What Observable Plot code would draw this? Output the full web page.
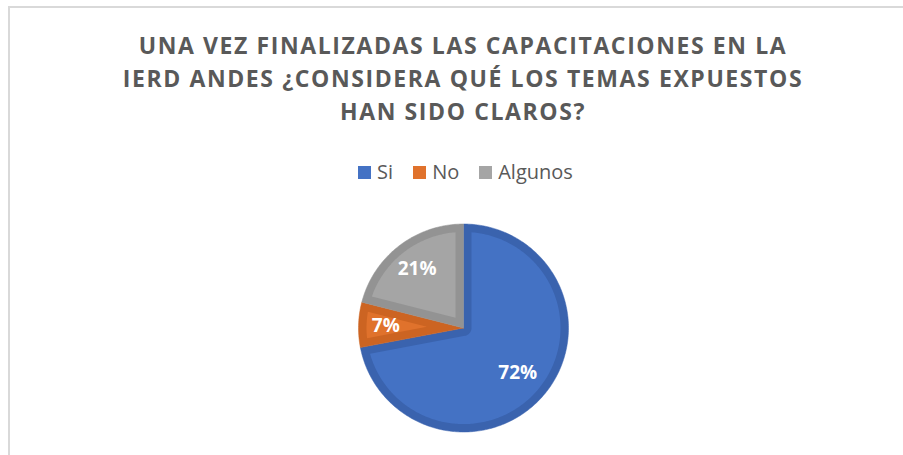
<!DOCTYPE html>
<html>
<head>
<meta charset="utf-8">
<script src="https://cdn.jsdelivr.net/npm/d3@7"></script>
<script src="https://cdn.jsdelivr.net/npm/@observablehq/plot@0.6"></script>
<style>
  html, body { margin: 0; padding: 0; background: #fff; }
  #wrap { position: relative; width: 903px; height: 455px; overflow: hidden; font-family: "Open Sans", sans-serif; }
  #frame { position: absolute; left: 8px; top: 6px; width: 1000px; height: 600px; border-left: 2px solid #D9D9D9; border-top: 2px solid #D9D9D9; }
  #title { position: absolute; left: 0; width: 926px; top: 28.5px; text-align: center; font-weight: 700; font-size: 23px; line-height: 33px; color: #595959; letter-spacing: 1.6px; white-space: nowrap; }
  #legend { position: absolute; left: 0; width: 931px; top: 160px; display: flex; justify-content: center; font-size: 20px; line-height: 24px; color: #595959; }
  #legend span.item { display: inline-flex; align-items: center; margin-right: 20px; }
  #legend span.item:last-child { margin-right: 0; }
  #legend span.sw { display: inline-block; width: 13px; height: 13px; margin-right: 6px; }
  #chart { position: absolute; left: 0; top: 0; }
</style>
</head>
<body>
<div id="wrap">
  <div id="frame"></div>
  <div id="title"></div>
  <div id="legend"></div>
  <div id="chart"></div>
</div>
<script>
// ---- data ----
const titleLines = [
  "UNA VEZ FINALIZADAS LAS CAPACITACIONES EN LA",
  "IERD ANDES ¿CONSIDERA QUÉ LOS TEMAS EXPUESTOS",
  "HAN SIDO CLAROS?"
];
const categories = ["Si", "No", "Algunos"];
const values = [72, 7, 21];
const labels = ["72%", "7%", "21%"];
const fillColors = ["#4472C4", "#E0722C", "#A5A5A5"];
const edgeColors = ["#3A63AE", "#CC6422", "#939393"];

// ---- title & legend ----
document.getElementById("title").innerHTML = titleLines.map(t => `<div>${t}</div>`).join("");
document.getElementById("legend").innerHTML = categories.map((c, i) =>
  `<span class="item"><span class="sw" style="background:${fillColors[i]}"></span>${c}</span>`).join("");

// ---- pie geometry (unit circle, angles clockwise from 12 o'clock) ----
const pie = d3.pie().sort(null).value(d => d)(values);
const inset = 8 / 105; // band width in unit radius
const pt = (a, r) => ({x: r * Math.sin(a), y: r * Math.cos(a)});

function arcPts(a0, a1, r, n) {
  const out = [];
  for (let k = 0; k <= n; k++) out.push(pt(a0 + (a1 - a0) * k / n, r));
  return out;
}

const outer = [], inner = [], textData = [];
pie.forEach((p, i) => {
  const a0 = p.startAngle, a1 = p.endAngle, th = a1 - a0;
  const n = Math.max(8, Math.ceil(th * 60));
  // outer wedge
  const poly = [{x: 0, y: 0}, ...arcPts(a0, a1, 1, n), {x: 0, y: 0}];
  poly.forEach(q => outer.push({...q, key: categories[i], color: edgeColors[i]}));
  // inset wedge
  const R = 1 - inset;
  const dl = Math.asin(inset / R);
  const ip = arcPts(a0 + dl, a1 - dl, R, n);
  if (th < Math.PI) {
    ip.push(pt(a0 + th / 2, inset / Math.sin(th / 2)));
  } else {
    ip.push(...arcPts(a1 - Math.PI / 2, a0 + Math.PI / 2, inset, 16));
  }
  ip.push(ip[0]);
  ip.forEach(q => inner.push({...q, key: categories[i], color: fillColors[i]}));
  // label
  const m = (a0 + a1) / 2;
  const lr = [0.67, 0.74, 0.72][i];
  textData.push({...pt(m, lr), label: labels[i]});
});

const cx = 463, cy = 327.5, r = 105, ry = 104;
const chart = Plot.plot({
  width: 903,
  height: 455,
  margin: 0,
  x: {domain: [-1, 1], range: [cx - r, cx + r], axis: null},
  y: {domain: [-1, 1], range: [cy + ry, cy - ry], axis: null},
  color: {type: "identity"},
  style: {background: "transparent", overflow: "visible"},
  marks: [
    Plot.line(outer, {x: "x", y: "y", z: "key", fill: "color", stroke: "color", strokeWidth: 0.5, curve: "linear"}),
    Plot.line(inner, {x: "x", y: "y", z: "key", fill: "color", stroke: null, curve: "linear"}),
    Plot.text(textData, {x: "x", y: "y", text: "label", fill: "white", fontSize: 19, fontWeight: 700, fontFamily: "Open Sans"})
  ]
});
document.getElementById("chart").appendChild(chart);
</script>
</body>
</html>
